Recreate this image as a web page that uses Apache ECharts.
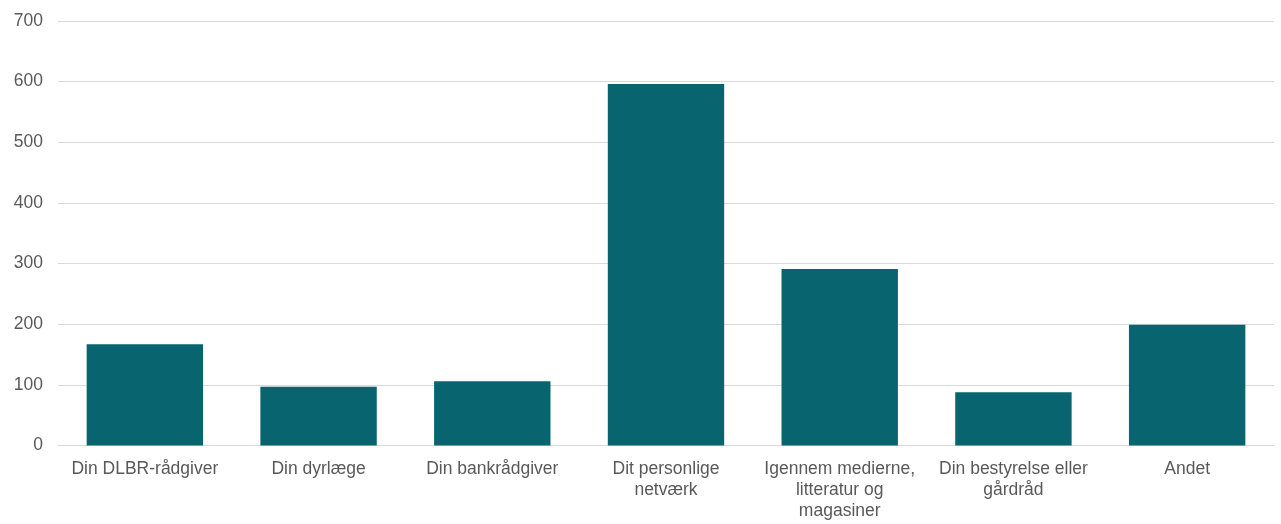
<!DOCTYPE html>
<html>
<head>
<meta charset="utf-8">
<script src="https://cdn.jsdelivr.net/npm/echarts@6/dist/echarts.min.js"></script>
<style>
html,body{margin:0;padding:0;background:#fff;}
#chart{width:1281px;height:524px;}
</style>
</head>
<body>
<div id="chart"></div>
<script>
const categories = [
  "Din DLBR-rådgiver",
  "Din dyrlæge",
  "Din bankrådgiver",
  "Dit personlige\nnetværk",
  "Igennem medierne,\nlitteratur og\nmagasiner",
  "Din bestyrelse eller\ngårdråd",
  "Andet"
];
const values = [167, 97, 106, 596, 291, 88, 199];

const chart = echarts.init(document.getElementById('chart'));
chart.setOption({
  animation: false,
  grid: { left: 58, right: 7, top: 21, bottom: 78.5, containLabel: false },
  xAxis: {
    type: 'category',
    data: categories,
    axisLine: { show: true, lineStyle: { color: '#d9d9d9', width: 1 } },
    axisTick: { show: false },
    axisLabel: {
      interval: 0,
      color: '#595959',
      fontFamily: 'Liberation Sans, Arial, sans-serif',
      fontSize: 17.5,
      lineHeight: 21,
      margin: 13
    }
  },
  yAxis: {
    type: 'value',
    min: 0, max: 700, interval: 100,
    axisLine: { show: false },
    axisTick: { show: false },
    splitLine: { lineStyle: { color: '#d9d9d9', width: 1 } },
    axisLabel: {
      color: '#595959',
      fontFamily: 'Liberation Sans, Arial, sans-serif',
      fontSize: 17.5,
      margin: 15
    }
  },
  series: [{
    type: 'bar',
    data: values,
    barCategoryGap: '33%',
    itemStyle: { color: '#08646F' }
  }]
});
</script>
</body>
</html>
